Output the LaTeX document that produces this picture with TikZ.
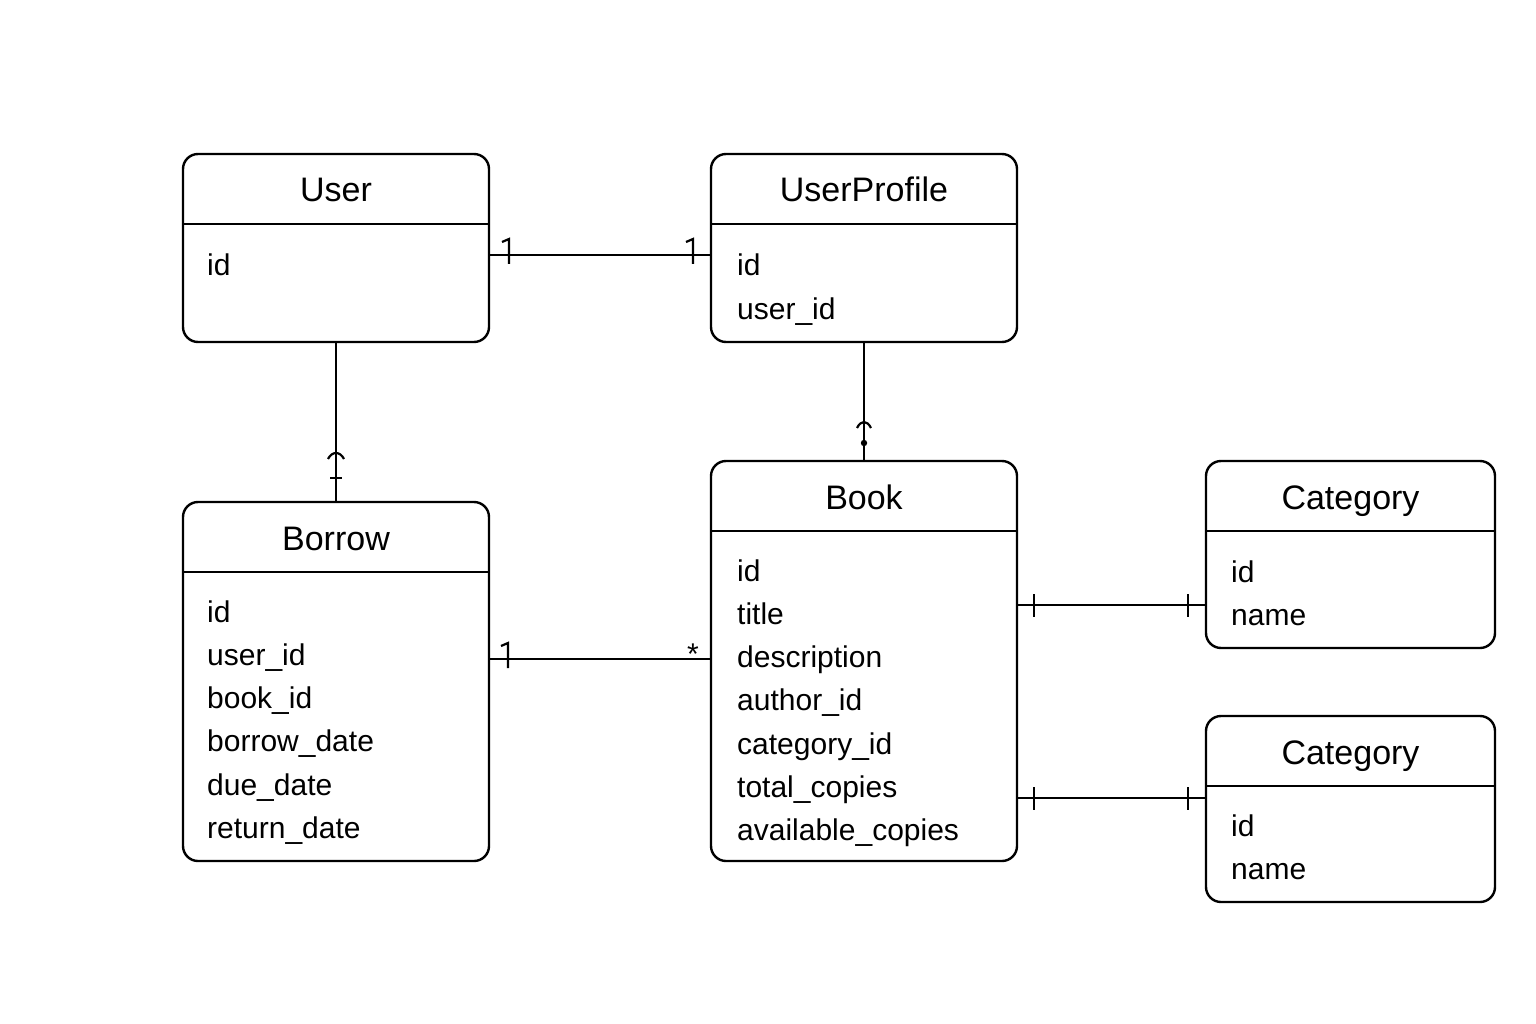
\documentclass[tikz,border=0pt]{standalone}
\usepackage{fontspec}
\setmainfont{Liberation Sans}
\usetikzlibrary{calc}
\begin{document}
\begin{tikzpicture}[x=1pt,y=-1pt,
  ent/.style={draw, line width=2.4pt, rounded corners=15pt, inner sep=0pt, outer sep=0pt},
  divider/.style={line width=2.4pt},
  ttl/.style={anchor=base, font=\fontsize{34}{40}\selectfont, inner sep=0pt},
  att/.style={anchor=base west, font=\fontsize{30}{36}\selectfont, inner sep=0pt},
  rel/.style={line width=2.2pt},
  mark1/.style={line width=2.2pt, line join=miter}
]
\fill[white] (0,0) rectangle (1536,1024);
\useasboundingbox (0,0) rectangle (1536,1024);

% Entities
\node[ent, minimum width=306pt, minimum height=188pt] (user) at (336,248) {};
\node[ent, minimum width=306pt, minimum height=188pt] (uprof) at (864,248) {};
\node[ent, minimum width=306pt, minimum height=359pt] (borrow) at (336,681.5) {};
\node[ent, minimum width=306pt, minimum height=400pt] (book) at (864,661) {};
\node[ent, minimum width=289pt, minimum height=187pt] (cat1) at (1350.5,554.5) {};
\node[ent, minimum width=289pt, minimum height=186pt] (cat2) at (1350.5,809) {};

% Dividers
\foreach \e in {user,uprof,borrow,book,cat1,cat2}
  \draw[divider] ($(\e.north west)+(0,70)$) -- ($(\e.north east)+(0,70)$);

% Titles
\node[ttl] (tuser) at ($(user.north)+(0,48)$) {User};
\node[ttl] (tuprof) at ($(uprof.north)+(0,48)$) {UserProfile};
\node[ttl] (tborrow) at ($(borrow.north)+(0,48)$) {Borrow};
\node[ttl] (tbook) at ($(book.north)+(0,48)$) {Book};
\node[ttl] (tcat1) at ($(cat1.north)+(0,48)$) {Category};
\node[ttl] (tcat2) at ($(cat2.north)+(0,48)$) {Category};

% Attributes
\node[att] (auser1) at ($(user.north west)+(24,122)$) {id};
\foreach \a [count=\i from 0] in {id,user\_id}
  \node[att] (auprof\i) at ($(uprof.north west)+(26,122+43.3*\i)$) {\a};
\foreach \a [count=\i from 0] in {id,user\_id,book\_id,borrow\_date,due\_date,return\_date}
  \node[att] (aborrow\i) at ($(borrow.north west)+(24,120+43.3*\i)$) {\a};
\foreach \a [count=\i from 0] in {id,title,description,author\_id,category\_id,total\_copies,available\_copies}
  \node[att] (abook\i) at ($(book.north west)+(26,120+43.3*\i)$) {\a};
\foreach \a [count=\i from 0] in {id,name}
  \node[att] (acat1\i) at ($(cat1.north west)+(25,121+43.3*\i)$) {\a};
\foreach \a [count=\i from 0] in {id,name}
  \node[att] (acat2\i) at ($(cat2.north west)+(25,120+43.3*\i)$) {\a};

% Connectors
\coordinate (uu) at ($(user.north east)+(0,101)$);
\draw[rel] (uu) -- (uu -| uprof.west);
\draw[mark1] (502,242) -- (509,239) -- (509,264);
\draw[mark1] (686,242) -- (693,239) -- (693,264);

\coordinate (bb) at ($(borrow.north east)+(0,157)$);
\draw[rel] (bb) -- (bb -| book.west);
\draw[mark1] (501,646) -- (508,643) -- (508,668);
\node[anchor=north, inner sep=0pt, font=\fontsize{30}{34}\selectfont] (star) at (693,644) {*};

\draw[rel] (user.south) -- (borrow.north);
\draw[rel] (328,459) .. controls (332,451) and (340,451) .. (344,459);
\draw[rel] (330,478) -- (342,478);

\draw[rel] (uprof.south) -- (book.north);
\draw[rel] (857,428) .. controls (861,420) and (867,420) .. (871,428);
\fill (864,443) circle (3.2pt);

\coordinate (bc1) at ($(book.north east)+(0,144)$);
\draw[rel] (bc1) -- (bc1 -| cat1.west);
\draw[rel] (1034,594) -- (1034,617);
\draw[rel] (1188,594) -- (1188,617);

\coordinate (bc2) at ($(book.north east)+(0,337)$);
\draw[rel] (bc2) -- (bc2 -| cat2.west);
\draw[rel] (1034,787) -- (1034,810);
\draw[rel] (1188,787) -- (1188,810);
\end{tikzpicture}
\end{document}
